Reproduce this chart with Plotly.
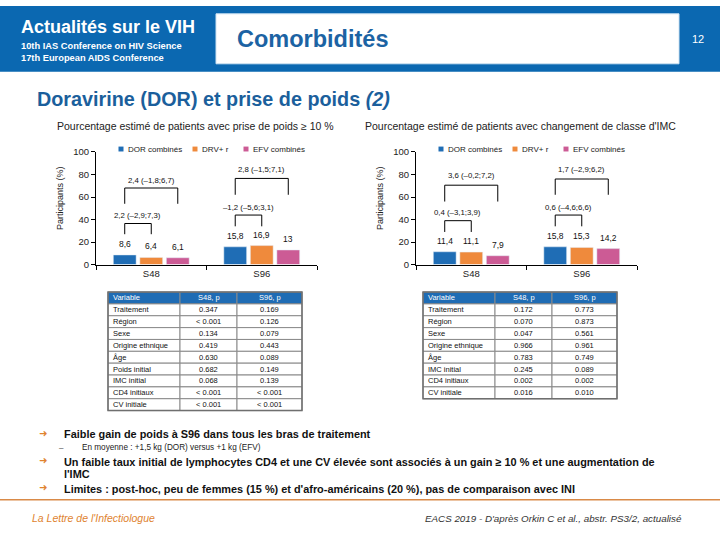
import plotly.graph_objects as go

# ---------------- data ----------------
categories = ["S48", "S96"]
series_names = ["DOR combinés", "DRV+ r", "EFV combinés"]
weight_gain_dor = [8.6, 15.8]
weight_gain_drv = [6.4, 16.9]
weight_gain_efv = [6.1, 13.0]
bmi_change_dor = [11.4, 15.8]
bmi_change_drv = [11.1, 15.3]
bmi_change_efv = [7.9, 14.2]
# differences (95% CI): [S48 DOR vs DRV, S48 DOR vs EFV, S96 DOR vs DRV, S96 DOR vs EFV]
weight_gain_diffs = ["2,2 (–2,9;7,3)", "2,4 (–1,8;6,7)", "–1,2 (–5,6;3,1)", "2,8 (–1,5;7,1)"]
bmi_change_diffs = ["0,4 (–3,1;3,9)", "3,6 (–0,2;7,2)", "0,6 (–4,6;6,6)", "1,7 (–2,9;6,2)"]

table_headers = ["Variable", "S48, p", "S96, p"]
weight_table_vars = ["Traitement", "Région", "Sexe", "Origine ethnique", "Âge",
                     "Poids initial", "IMC initial", "CD4 initiaux", "CV initiale"]
weight_table_s48 = ["0.347", "< 0.001", "0.134", "0.419", "0.630", "0.682", "0.068", "< 0.001", "< 0.001"]
weight_table_s96 = ["0.169", "0.126", "0.079", "0.443", "0.089", "0.149", "0.139", "< 0.001", "< 0.001"]
bmi_table_vars = ["Traitement", "Région", "Sexe", "Origine ethnique", "Âge",
                  "IMC initial", "CD4 initiaux", "CV initiale"]
bmi_table_s48 = ["0.172", "0.070", "0.047", "0.966", "0.783", "0.245", "0.002", "0.016"]
bmi_table_s96 = ["0.773", "0.873", "0.561", "0.961", "0.749", "0.089", "0.002", "0.010"]

# ---------------- styles ----------------
W, H = 720, 540
FONT = "Liberation Sans, Arial, sans-serif"
COLORS = ["#1f6db5", "#ef8a3c", "#cc5b95"]
HEADER_BLUE = "#0b68b1"
TITLE_BLUE = "#1b5f9c"
ORANGE = "#e0832f"

def px(x):
    return x / W

def py(y):
    return 1 - y / H

# bracket geometry (y levels in axis units): per group [small bottom, small top, small label, big bottom, big top, big label]
bracket_levels_1 = [[27, 36.5, 43.5, 54, 68, 75], [34, 44, 51, 62, 76.5, 84]]
bracket_levels_2 = [[29, 39, 46, 56, 70.5, 79], [34, 44, 51, 62, 76, 84]]

fig = go.Figure()

charts = [
    dict(xa="x", ya="y", vals=[weight_gain_dor, weight_gain_drv, weight_gain_efv],
         diffs=weight_gain_diffs, levels=bracket_levels_1, x0=96, x1=317,
         subtitle="Pourcentage estimé de patients avec prise de poids ≥ 10 %", sub_x=55, ytitle_x=60),
    dict(xa="x2", ya="y2", vals=[bmi_change_dor, bmi_change_drv, bmi_change_efv],
         diffs=bmi_change_diffs, levels=bracket_levels_2, x0=416, x1=637,
         subtitle="Pourcentage estimé de patients avec changement de classe d'IMC", sub_x=363, ytitle_x=380),
]

BARGAP = 0.28
slot = (1 - BARGAP) / 3
offsets = [-slot, 0, slot]

shapes = []
annotations = []

for c in charts:
    for k, name in enumerate(series_names):
        fig.add_trace(go.Bar(
            x=categories, y=c["vals"][k], name=name, marker_color=COLORS[k],
            xaxis=c["xa"], yaxis=c["ya"], showlegend=False, offsetgroup=str(k),
            hovertemplate="%{x}: %{y}<extra>" + name + "</extra>"))
        for i, v in enumerate(c["vals"][k]):
            lab = f"{v:g}".replace(".", ",")
            annotations.append(dict(x=i + offsets[k], y=v, xref=c["xa"], yref=c["ya"], text=lab,
                                    yanchor="bottom", yshift=4,
                                    font=dict(size=8.5, family=FONT, color="#111")))
    # brackets
    for i in range(len(categories)):
        lv = c["levels"][i]
        xd = i + offsets[0]
        for (k, b, t, ly, txt) in [(1, lv[0], lv[1], lv[2], c["diffs"][2 * i]),
                                   (2, lv[3], lv[4], lv[5], c["diffs"][2 * i + 1])]:
            xe = i + offsets[k]
            line = dict(color="#000", width=1)
            shapes.append(dict(type="line", xref=c["xa"], yref=c["ya"], x0=xd, x1=xd, y0=b, y1=t, line=line))
            shapes.append(dict(type="line", xref=c["xa"], yref=c["ya"], x0=xd, x1=xe, y0=t, y1=t, line=line))
            shapes.append(dict(type="line", xref=c["xa"], yref=c["ya"], x0=xe, x1=xe, y0=t, y1=b, line=line))
            annotations.append(dict(x=(xd + xe) / 2, y=ly, xref=c["xa"], yref=c["ya"], text=txt,
                                    font=dict(size=7.8, family=FONT, color="#111")))
    # manual legend
    lx = [c["x0"] + 25, c["x0"] + 99, c["x0"] + 150]
    for k, name in enumerate(series_names):
        shapes.append(dict(type="rect", xref="paper", yref="paper",
                           x0=px(lx[k] - 2.5), x1=px(lx[k] + 2.5), y0=py(148.5), y1=py(143.5),
                           fillcolor=COLORS[k], line=dict(width=0)))
        annotations.append(dict(x=px(lx[k] + 5), y=py(146), text=name, xanchor="left",
                                font=dict(size=8, family=FONT, color="#222")))
    # subtitle
    annotations.append(dict(x=px(c["sub_x"]), y=py(123), text=c["subtitle"], xanchor="left",
                            font=dict(size=10.5, family=FONT, color="#222")))
    # y title
    annotations.append(dict(x=px(c["ytitle_x"]), y=py(196), text="Participants (%)", textangle=-90,
                            font=dict(size=9, family=FONT, color="#222")))

axis_common_x = dict(type="category", showline=True, linecolor="#000", linewidth=1,
                     ticks="outside", tickson="boundaries", ticklen=4, tickcolor="#000",
                     tickfont=dict(size=9.5, family=FONT, color="#222"), showgrid=False,
                     fixedrange=True)
axis_common_y = dict(range=[0, 100], tickvals=[0, 20, 40, 60, 80, 100], showline=True,
                     linecolor="#000", linewidth=1, ticks="outside", ticklen=4, tickcolor="#000",
                     tickfont=dict(size=9.5, family=FONT, color="#222"), showgrid=False,
                     zeroline=False, fixedrange=True)

ydom = [py(264), py(149)]
fig.update_layout(
    xaxis=dict(axis_common_x, domain=[px(96), px(317)], anchor="y"),
    yaxis=dict(axis_common_y, domain=ydom, anchor="x"),
    xaxis2=dict(axis_common_x, domain=[px(416), px(637)], anchor="y2"),
    yaxis2=dict(axis_common_y, domain=ydom, anchor="x2"),
)

# tables drawn as cells (shapes + text) built from the table lists
ROW_H = 12.1
def add_table(vars_, s48, s96, col_edges, ytop):
    columns = [vars_, s48, s96]
    nrows = len(vars_) + 1
    for r in range(nrows):
        y0 = ytop + r * ROW_H
        y1 = y0 + ROW_H
        for ci in range(3):
            xa, xb = col_edges[ci], col_edges[ci + 1]
            header = r == 0
            shapes.append(dict(type="rect", xref="paper", yref="paper",
                               x0=px(xa), x1=px(xb), y0=py(y1), y1=py(y0),
                               fillcolor="#1f6cb4" if header else "white",
                               line=dict(color="#8a8a8a", width=1)))
            txt = table_headers[ci] if header else columns[ci][r - 1]
            if ci == 0:
                annotations.append(dict(x=px(xa + 3), y=py((y0 + y1) / 2), text=txt, xanchor="left",
                                        font=dict(size=7.5, family=FONT, color="white" if header else "#111")))
            else:
                annotations.append(dict(x=px((xa + xb) / 2), y=py((y0 + y1) / 2), text=txt,
                                        xanchor="center",
                                        font=dict(size=7.5, family=FONT, color="white" if header else "#111")))
    # outer border
    shapes.append(dict(type="rect", xref="paper", yref="paper",
                       x0=px(col_edges[0]), x1=px(col_edges[-1]),
                       y0=py(ytop + nrows * ROW_H), y1=py(ytop),
                       line=dict(color="#6f6f6f", width=1.5)))

add_table(weight_table_vars, weight_table_s48, weight_table_s96, [108, 180, 237, 302], 292)
add_table(bmi_table_vars, bmi_table_s48, bmi_table_s96, [423, 495, 552, 617], 292)

# header band
shapes.append(dict(type="rect", xref="paper", yref="paper", x0=0, x1=1, y0=py(67), y1=1,
                   fillcolor=HEADER_BLUE, line=dict(width=0), layer="below"))
shapes.append(dict(type="rect", xref="paper", yref="paper", x0=px(216), x1=px(679), y0=py(59), y1=py(8),
                   fillcolor="white", line=dict(color="#cfe3f3", width=1), layer="below"))
annotations += [
    dict(x=px(19), y=py(21), text="<b>Actualités sur le VIH</b>", xanchor="left",
         font=dict(size=18, family=FONT, color="white")),
    dict(x=px(19), y=py(41), text="<b>10th IAS Conference on HIV Science</b>", xanchor="left",
         font=dict(size=9.3, family=FONT, color="white")),
    dict(x=px(19), y=py(53), text="<b>17th European AIDS Conference</b>", xanchor="left",
         font=dict(size=9.3, family=FONT, color="white")),
    dict(x=px(235), y=py(34), text="<b>Comorbidités</b>", xanchor="left",
         font=dict(size=23.5, family=FONT, color="#1c63a3")),
    dict(x=px(698), y=py(34), text="12", xanchor="center",
         font=dict(size=11, family=FONT, color="white")),
    dict(x=px(35), y=py(95), text="<b>Doravirine (DOR) et prise de poids <i>(2)</i></b>", xanchor="left",
         font=dict(size=19.8, family=FONT, color=TITLE_BLUE)),
]

# bullets
bullets = [
    (437, "Faible gain de poids à S96 dans tous les bras de traitement"),
    (465, "Un faible taux initial de lymphocytes CD4 et une CV élevée sont associés à un gain ≥ 10 % et une augmentation de"),
    (478, "l'IMC"),
    (493, "Limites : post-hoc, peu de femmes (15 %) et d'afro-américains (20 %), pas de comparaison avec INI"),
]
for i, (y, t) in enumerate(bullets):
    if i != 2:
        annotations.append(dict(x=px(43), y=py(y - 1), text="➜", xanchor="center",
                                font=dict(size=10, family="DejaVu Sans", color=ORANGE)))
    annotations.append(dict(x=px(62), y=py(y), text="<b>" + t + "</b>", xanchor="left",
                            font=dict(size=10.9, family=FONT, color="#111")))
annotations.append(dict(x=px(61), y=py(451), text="–", xanchor="center",
                        font=dict(size=8, family=FONT, color="#333")))
annotations.append(dict(x=px(80), y=py(451), text="En moyenne : +1,5 kg (DOR) versus +1 kg (EFV)",
                        xanchor="left", font=dict(size=8.2, family=FONT, color="#222")))

# footer
shapes.append(dict(type="line", xref="paper", yref="paper", x0=0, x1=1, y0=py(504), y1=py(504),
                   line=dict(color="#d98a48", width=1.5)))
annotations.append(dict(x=px(30), y=py(523), text="<i>La Lettre de l'Infectiologue</i>", xanchor="left",
                        font=dict(size=10.5, family=FONT, color=ORANGE)))
annotations.append(dict(x=px(684), y=py(523),
                        text="<i>EACS 2019 - D'après Orkin C et al., abstr. PS3/2, actualisé</i>",
                        xanchor="right", font=dict(size=9.8, family=FONT, color="#333")))

for a in annotations:
    a.setdefault("xref", "paper")
    a.setdefault("yref", "paper")
    a.setdefault("showarrow", False)
    a.setdefault("yanchor", "middle")
    a.setdefault("xanchor", "center")

fig.update_layout(
    width=W, height=H, margin=dict(l=0, r=0, t=0, b=0),
    paper_bgcolor="white", plot_bgcolor="rgba(0,0,0,0)",
    barmode="group", bargap=BARGAP, bargroupgap=0.14,
    showlegend=False, shapes=shapes, annotations=annotations,
    font=dict(family=FONT),
)

fig.write_html("out.html", config={"displayModeBar": False},
               post_script="document.body.style.margin='0px';document.body.style.padding='0px';")
